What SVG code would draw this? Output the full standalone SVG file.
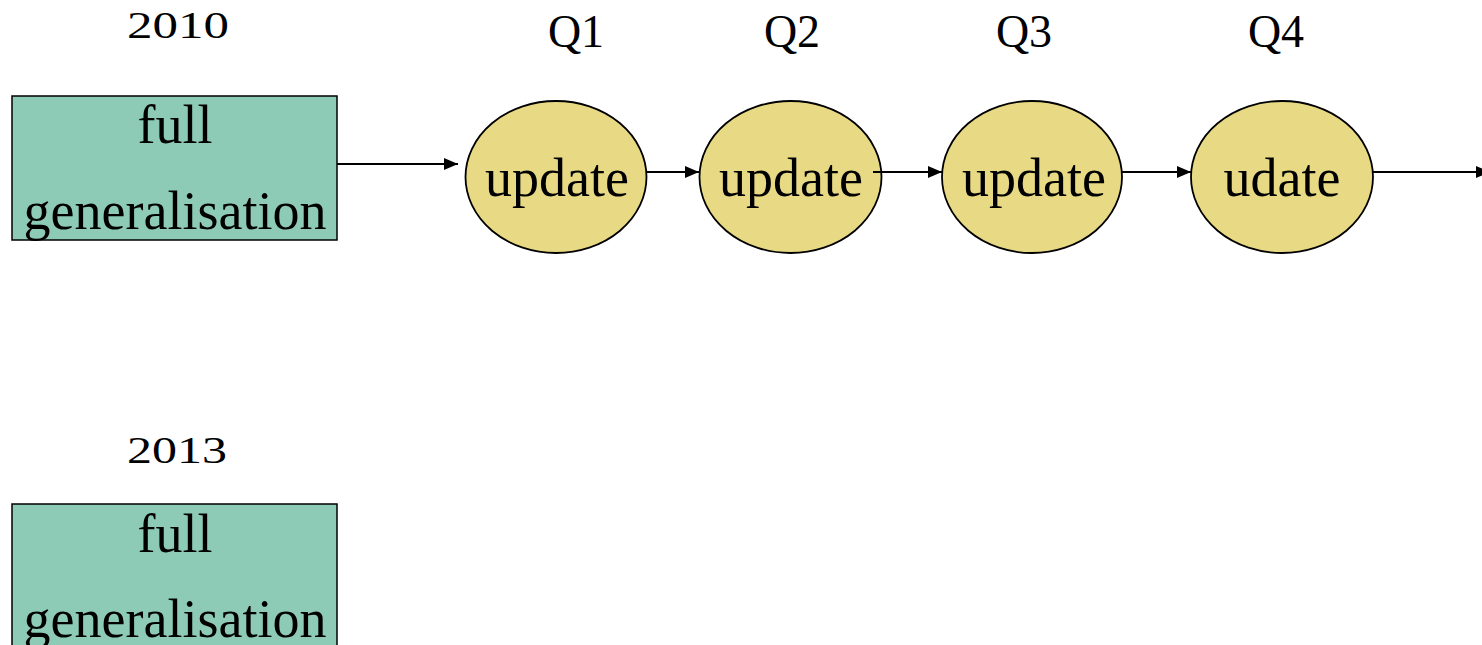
<svg xmlns="http://www.w3.org/2000/svg" width="1482" height="645" viewBox="0 0 1482 645">
<style>
.box{fill:#8dcbb7;stroke:#000;stroke-width:1.5}
.ell{fill:#e8d984;stroke:#000;stroke-width:1.8}
.t{font-family:"Liberation Serif","Times New Roman",serif;font-size:54px;fill:#000;text-anchor:middle}
.lbl{font-family:"Liberation Serif","Times New Roman",serif;font-size:46px;fill:#000;text-anchor:middle}
.yr{font-family:"Liberation Serif","Times New Roman",serif;font-size:38px;fill:#000;text-anchor:middle}
.c{stroke:#000;stroke-width:2;fill:none;marker-end:url(#ah)}
</style>
<defs>
<marker id="ah" viewBox="0 0 14 12" refX="14" refY="6" markerWidth="14" markerHeight="12" markerUnits="userSpaceOnUse" orient="auto">
<path d="M0,0 L14,6 L0,12 Z" fill="#000"/>
</marker>
</defs>
<g id="labels">
<text class="yr" x="178" y="38" textLength="102" lengthAdjust="spacingAndGlyphs">2010</text>
<text class="lbl" x="576" y="47">Q1</text>
<text class="lbl" x="792" y="47">Q2</text>
<text class="lbl" x="1024" y="47">Q3</text>
<text class="lbl" x="1276" y="47">Q4</text>
<text class="yr" x="177" y="463" textLength="100" lengthAdjust="spacingAndGlyphs">2013</text>
</g>
<g id="connectors">
<line class="c" x1="337" y1="164" x2="458" y2="164"/>
<line class="c" x1="647" y1="172" x2="699" y2="172"/>
<line class="c" x1="873" y1="172" x2="942" y2="172"/>
<line class="c" x1="1122" y1="172" x2="1191" y2="172"/>
<line class="c" x1="1373" y1="172" x2="1490" y2="172"/>
</g>
<g id="box2010">
<rect class="box" x="12" y="96" width="325" height="144"/>
<text class="t" x="175" y="143">full</text>
<text class="t" x="175" y="229">generalisation</text>
</g>
<g id="q1">
<ellipse class="ell" cx="556" cy="177" rx="90.5" ry="76"/>
<text class="t" x="557" y="196">update</text>
</g>
<g id="q2">
<ellipse class="ell" cx="790.5" cy="177" rx="91" ry="76"/>
<text class="t" x="791" y="196">update</text>
</g>
<g id="q3">
<ellipse class="ell" cx="1032" cy="177" rx="90" ry="76"/>
<text class="t" x="1034" y="196">update</text>
</g>
<g id="q4">
<ellipse class="ell" cx="1282" cy="177" rx="91" ry="76"/>
<text class="t" x="1282" y="196">udate</text>
</g>
<line x1="873" y1="172" x2="882" y2="172" stroke="#000" stroke-width="2"/>
<g id="box2013">
<rect class="box" x="12" y="504" width="325" height="160"/>
<text class="t" x="175" y="552">full</text>
<text class="t" x="175" y="637">generalisation</text>
</g>
</svg>
